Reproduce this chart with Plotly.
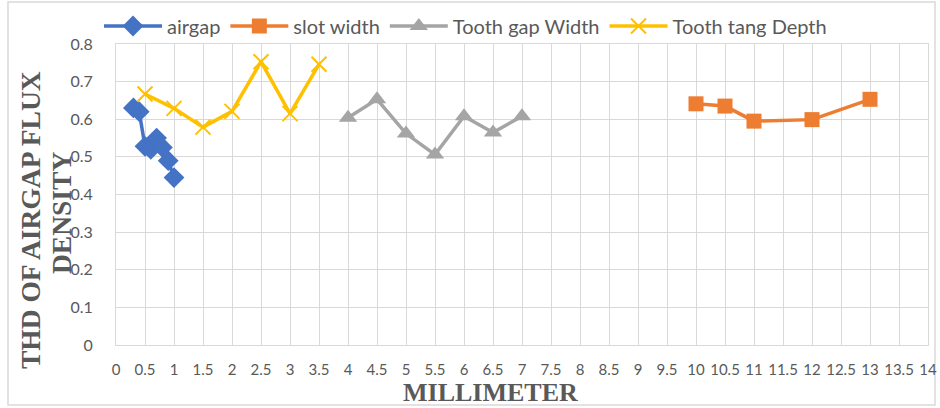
import plotly.graph_objects as go

# ---- data ----
airgap_x = [0.3, 0.4, 0.5, 0.6, 0.7, 0.8, 0.9, 1.0]
airgap_y = [0.63, 0.62, 0.528, 0.52, 0.55, 0.525, 0.49, 0.445]

slot_x = [10, 10.5, 11, 12, 13]
slot_y = [0.641, 0.635, 0.595, 0.599, 0.653]

gap_x = [4, 4.5, 5, 5.5, 6, 6.5, 7]
gap_y = [0.604, 0.653, 0.562, 0.506, 0.608, 0.565, 0.608]

tang_x = [0.5, 1, 1.5, 2, 2.5, 3, 3.5]
tang_y = [0.667, 0.629, 0.579, 0.621, 0.753, 0.615, 0.746]

x_ticks = [i * 0.5 for i in range(29)]
x_ticklabels = [("%g" % v) for v in x_ticks]
y_ticks = [0, 0.1, 0.2, 0.3, 0.4, 0.5, 0.6, 0.7, 0.8]
y_ticklabels = [("%g" % v) for v in y_ticks]

BLUE = "#4472C4"
ORANGE = "#ED7D31"
GRAY = "#A5A5A5"
YELLOW = "#FFC000"
TXT = "#595959"
GRID = "#D9D9D9"

fig = go.Figure()
fig.add_trace(go.Scatter(x=airgap_x, y=airgap_y, name="airgap", mode="lines+markers",
                         line=dict(color=BLUE, width=3.5),
                         marker=dict(symbol="diamond", size=16, color=BLUE)))
fig.add_trace(go.Scatter(x=slot_x, y=slot_y, name="slot width", mode="lines+markers",
                         line=dict(color=ORANGE, width=3.5),
                         marker=dict(symbol="square", size=15, color=ORANGE)))
fig.add_trace(go.Scatter(x=gap_x, y=gap_y, name="Tooth gap Width", mode="lines+markers",
                         line=dict(color=GRAY, width=3.5),
                         marker=dict(symbol="triangle-up", size=16, color=GRAY)))
fig.add_trace(go.Scatter(x=tang_x, y=tang_y, name="Tooth tang Depth", mode="lines+markers",
                         line=dict(color=YELLOW, width=3.5),
                         marker=dict(symbol="x-thin", size=15, color=YELLOW,
                                     line=dict(color=YELLOW, width=2))))

L, R, T, B = 116, 12, 44, 63
W, H = 940, 408
pw = W - L - R
ph = H - T - B

def px(xp):
    return (xp - L) / pw

def py(yp):
    return (H - B - yp) / ph

fig.update_layout(
    width=W, height=H,
    margin=dict(l=L, r=R, t=T, b=B, autoexpand=False),
    paper_bgcolor="white", plot_bgcolor="white",
    font=dict(family="Lato", color=TXT, size=15),
    showlegend=True,
    legend=dict(orientation="h", xref="container", yref="container",
                x=99 / W, xanchor="left", y=1 - 26 / H, yanchor="middle",
                font=dict(family="Lato", size=20, color=TXT),
                bgcolor="rgba(0,0,0,0)", itemwidth=58),
    xaxis=dict(range=[0, 14], tickmode="array", tickvals=x_ticks, ticktext=x_ticklabels,
               showgrid=True, gridcolor=GRID, gridwidth=1,
               showline=True, linecolor=GRID, linewidth=1, mirror=True,
               zeroline=False, ticks="", ticklabelstandoff=11, automargin=False,
               tickfont=dict(family="Lato", size=15, color=TXT)),
    yaxis=dict(range=[0, 0.8], tickmode="array", tickvals=y_ticks, ticktext=y_ticklabels,
               showgrid=True, gridcolor=GRID, gridwidth=1,
               showline=True, linecolor=GRID, linewidth=1, mirror=True,
               zeroline=False, ticks="", ticklabelstandoff=19, automargin=False,
               tickfont=dict(family="Lato", size=16, color=TXT)),
)

ytitle_font = dict(family="Liberation Serif", size=27.5, color=TXT)
xtitle_font = dict(family="Liberation Serif", size=26, color=TXT)
fig.add_annotation(text="<b>THD OF AIRGAP FLUX</b>", xref="paper", yref="paper",
                   x=px(30), y=py(220), textangle=-90, showarrow=False,
                   xanchor="center", yanchor="middle", font=ytitle_font)
fig.add_annotation(text="<b>DENSITY</b>", xref="paper", yref="paper",
                   x=px(61), y=py(213), textangle=-90, showarrow=False,
                   xanchor="center", yanchor="middle", font=ytitle_font)
fig.add_annotation(text="<b>MILLIMETER</b>", xref="paper", yref="paper",
                   x=px(490), y=py(392), showarrow=False,
                   xanchor="center", yanchor="middle", font=xtitle_font)

fig.add_shape(type="rect", xref="paper", yref="paper",
              x0=px(8), x1=px(935), y0=py(405), y1=py(2),
              line=dict(color=GRID, width=1.5), fillcolor="rgba(0,0,0,0)", layer="below")

fig.write_html("out.html", config={"displayModeBar": False},
               post_script="document.body.style.margin='0';document.body.style.overflow='hidden';")
